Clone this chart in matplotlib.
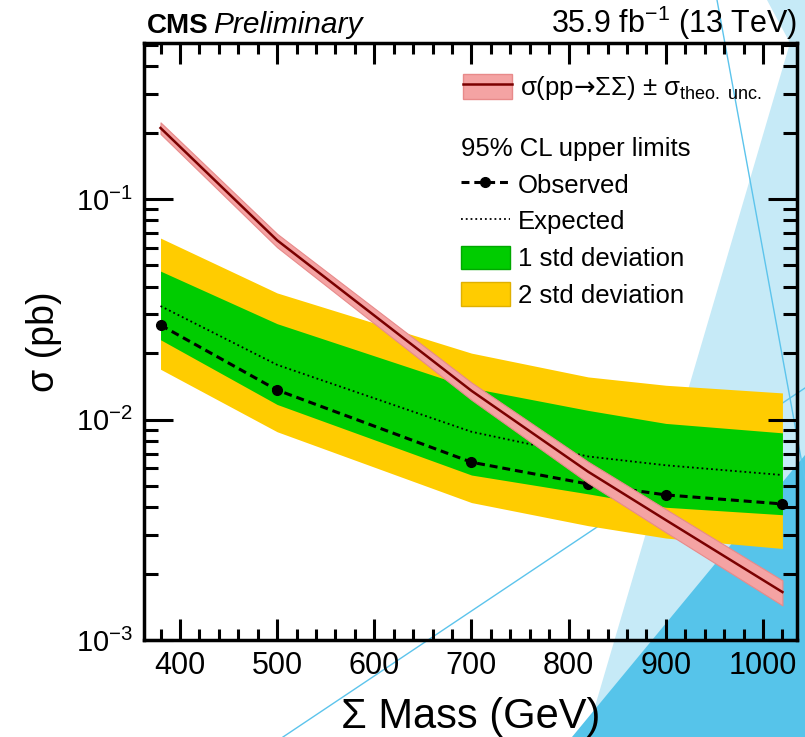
import matplotlib
matplotlib.use("Agg")
import matplotlib.pyplot as plt
from matplotlib.patches import Patch, Polygon
from matplotlib.lines import Line2D
from matplotlib.ticker import LogLocator, MultipleLocator, NullFormatter

# mass points (GeV) and limits on sigma (pb)
mass = [380, 500, 700, 820, 900, 1020]
observed = [0.0268, 0.0136, 0.0064, 0.0051, 0.00455, 0.00414]
expected = [0.0327, 0.0177, 0.0088, 0.0068, 0.0062, 0.0056]
exp_1sig_lo = [0.0230, 0.0117, 0.0056, 0.0046, 0.0040, 0.0037]
exp_1sig_hi = [0.0471, 0.0272, 0.0139, 0.0110, 0.0096, 0.0087]
exp_2sig_lo = [0.0169, 0.0088, 0.0042, 0.0033, 0.0029, 0.0026]
exp_2sig_hi = [0.0665, 0.0375, 0.0200, 0.0156, 0.0143, 0.0132]
theory = [0.21, 0.065, 0.0135, 0.0058, 0.0035, 0.00165]
theory_rel_unc = [0.06, 0.07, 0.09, 0.11, 0.12, 0.13]

plt.rcParams['font.family'] = ['Liberation Sans', 'DejaVu Sans']
plt.rcParams['mathtext.fontset'] = 'custom'
plt.rcParams['mathtext.rm'] = 'Liberation Sans'
plt.rcParams['mathtext.it'] = 'Liberation Sans:italic'
plt.rcParams['mathtext.bf'] = 'Liberation Sans:bold'
plt.rcParams['mathtext.sf'] = 'DejaVu Sans'
plt.rcParams['mathtext.default'] = 'regular'

W, H = 805, 737
fig = plt.figure(figsize=(W / 100, H / 100), dpi=100)
fig.patch.set_facecolor('white')


def px(x, y):
    return (x / W, 1 - y / H)


# slide background pieces behind the plot
light = Polygon([px(767, 0), px(805, 0), px(805, 737), px(586, 737), px(790, 43)],
                closed=True, transform=fig.transFigure, facecolor='#c6eaf7',
                edgecolor='none', zorder=-3)
dark = Polygon([px(805, 455), px(805, 737), px(572, 737)], closed=True,
               transform=fig.transFigure, facecolor='#56c4ea', edgecolor='none', zorder=-2)
fig.add_artist(light)
fig.add_artist(dark)
for p0, p1 in [((717, 0), (805, 480)), ((283, 737), (805, 388))]:
    a, b = px(*p0), px(*p1)
    fig.add_artist(Line2D([a[0], b[0]], [a[1], b[1]], transform=fig.transFigure,
                          color='#5cc4ec', lw=1, zorder=-1))

ax = fig.add_axes([144 / W, (H - 640) / H, (797 - 144) / W, (640 - 43) / H])
ax.set_facecolor('none')

theo_lo = [t * (1 - u) for t, u in zip(theory, theory_rel_unc)]
theo_hi = [t * (1 + u) for t, u in zip(theory, theory_rel_unc)]

ax.fill_between(mass, exp_2sig_lo, exp_2sig_hi, color='#ffcc00', lw=0, zorder=1)
ax.fill_between(mass, exp_1sig_lo, exp_1sig_hi, color='#00cc00', lw=0, zorder=2)
ax.plot(mass, expected, color='black', ls=':', lw=1.3, zorder=3)
ax.plot(mass, observed, color='black', ls=(0, (2.6, 1.6)), lw=2.2,
        marker='o', ms=7, zorder=4)
ax.fill_between(mass, theo_lo, theo_hi, color='#f4a3a3', ec='#e88a8a', lw=0.8, zorder=5)
ax.plot(mass, theory, color='#7a0000', lw=1.8, zorder=6)

ax.set_yscale('log')
ax.set_xlim(363, 1035)
ax.set_ylim(1e-3, 0.51)

ax.xaxis.set_major_locator(MultipleLocator(100))
ax.xaxis.set_minor_locator(MultipleLocator(20))
ax.yaxis.set_major_locator(LogLocator(base=10))
ax.yaxis.set_minor_locator(LogLocator(base=10, subs=range(2, 10)))
ax.yaxis.set_minor_formatter(NullFormatter())

ax.tick_params(which='both', direction='in', top=True, right=True, width=2.2,
               colors='black')
ax.tick_params(axis='x', which='major', length=15, pad=8, labelsize=22)
ax.tick_params(axis='x', which='minor', length=8)
ax.tick_params(axis='y', which='major', length=21, pad=8, labelsize=21)
ax.tick_params(axis='y', which='minor', length=10)
for s in ax.spines.values():
    s.set_linewidth(2.5)

ax.set_xlabel('Σ Mass (GeV)', fontsize=30, va='baseline')
ax.xaxis.set_label_coords(0.5, (640 - 728) / 597)
ax.set_ylabel('σ (pb)', fontsize=27, va='center')
ax.yaxis.set_label_coords(-0.153, 0.5)

fig.text(147 / W, 1 - 33 / H, 'CMS', fontsize=20, fontweight='bold', va='baseline')
fig.text(213 / W, 1 - 33 / H, 'Preliminary', fontsize=21.5, fontstyle='italic', va='baseline')
fig.text(797 / W, 1 - 33 / H, '35.9 fb$^{-1}$ (13 TeV)', fontsize=22, ha='right', va='baseline')

# legends
leg_fs = 18.5
theo_handle = (Patch(facecolor='#f4a3a3', edgecolor='#e88a8a'),
               Line2D([], [], color='#7a0000', lw=1.8))
leg1 = ax.legend([theo_handle],
                 ['σ(pp$\\mathsf{→}$ΣΣ) ± σ$_{\\mathrm{theo.\\ unc.}}$'],
                 loc='center left', bbox_to_anchor=((463 - 144) / 653, (640 - 88) / 597),
                 frameon=False, fontsize=leg_fs, borderpad=0, borderaxespad=0,
                 handlelength=1.9, handleheight=1.15, handletextpad=0.32)
ax.add_artist(leg1)

handles = [Line2D([], [], color='black', ls=(0, (2.6, 1.6)), lw=2.2, marker='o', ms=7),
           Line2D([], [], color='black', ls=':', lw=1.3),
           Patch(facecolor='#00cc00', edgecolor='#00a800'),
           Patch(facecolor='#ffcc00', edgecolor='#e0b000')]
labels = ['Observed', 'Expected', '1 std deviation', '2 std deviation']
leg2 = ax.legend(handles, labels, title='95% CL upper limits', alignment='left',
                 title_fontsize=leg_fs, fontsize=leg_fs,
                 loc='upper left', bbox_to_anchor=((461 - 144) / 653, (640 - 137) / 597),
                 frameon=False, borderpad=0, borderaxespad=0, numpoints=1,
                 handlelength=1.9, handleheight=1.05, handletextpad=0.32,
                 labelspacing=0.43)

fig.savefig('out.png', dpi=100)
